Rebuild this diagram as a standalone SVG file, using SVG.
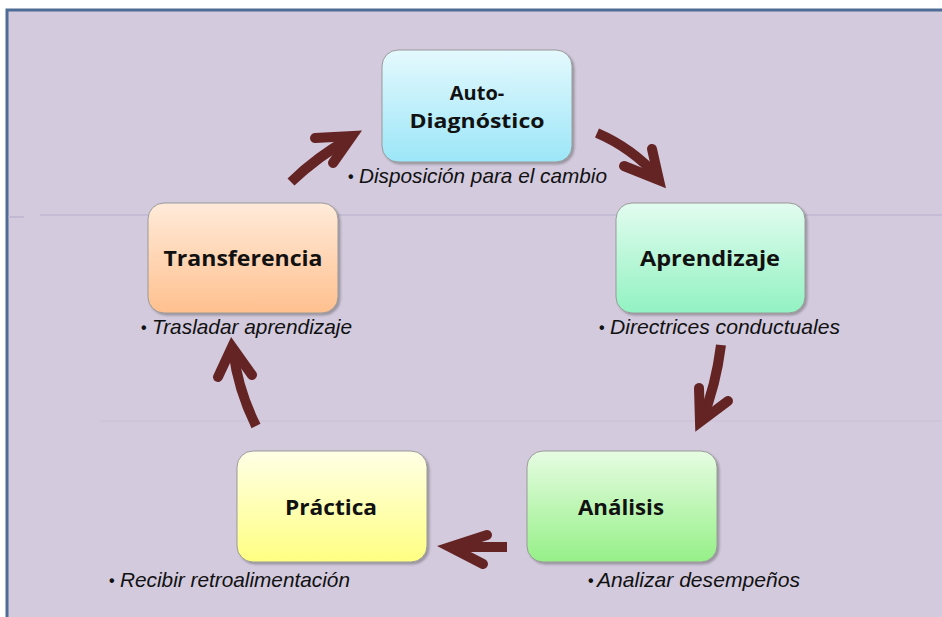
<svg xmlns="http://www.w3.org/2000/svg" width="942" height="617" viewBox="0 0 942 617">
<defs>
<linearGradient id="gCyan" x1="0" y1="0" x2="0" y2="1"><stop offset="0" stop-color="#E4F9FD"/><stop offset="1" stop-color="#9CE6F8"/></linearGradient>
<linearGradient id="gMint" x1="0" y1="0" x2="0" y2="1"><stop offset="0" stop-color="#E2FCEF"/><stop offset="1" stop-color="#92F2C2"/></linearGradient>
<linearGradient id="gGreen" x1="0" y1="0" x2="0" y2="1"><stop offset="0" stop-color="#E6FCE2"/><stop offset="1" stop-color="#96F088"/></linearGradient>
<linearGradient id="gYellow" x1="0" y1="0" x2="0" y2="1"><stop offset="0" stop-color="#FFFFE6"/><stop offset="1" stop-color="#FFFF82"/></linearGradient>
<linearGradient id="gPeach" x1="0" y1="0" x2="0" y2="1"><stop offset="0" stop-color="#FFEBDA"/><stop offset="1" stop-color="#FFC08E"/></linearGradient>
<filter id="sh" x="-10%" y="-10%" width="130%" height="130%"><feDropShadow dx="2" dy="2" stdDeviation="1.2" flood-color="#555" flood-opacity="0.45"/></filter>
</defs>
<style>
.box{stroke:#9A9A9A;stroke-width:1;filter:url(#sh)}
.title{font-family:"Open Sans","Noto Sans",sans-serif;font-weight:bold;font-size:22px;fill:#111;text-anchor:middle}
.t2{font-size:20px}
.lbl{font-family:"Liberation Sans",Arial,sans-serif;font-style:italic;font-size:21px;fill:#111}
.bul{font-family:"Liberation Sans",Arial,sans-serif;font-weight:bold;font-size:16px;fill:#111}
.shaft{fill:none;stroke:#652424;stroke-width:10;stroke-linecap:butt}
.head{fill:none;stroke:#652424;stroke-width:10;stroke-linecap:round;stroke-linejoin:miter;stroke-miterlimit:10}
</style>
<rect x="0" y="0" width="942" height="617" fill="#FFFFFF"/>
<rect x="7" y="10" width="945" height="620" fill="#D3CADE" stroke="#4F6C96" stroke-width="3"/>
<line x1="40" y1="215" x2="942" y2="215" stroke="#B7AECB" stroke-width="1.2"/>
<line x1="8" y1="217" x2="24" y2="217" stroke="#B7AECB" stroke-width="1.2"/>
<line x1="100" y1="421" x2="942" y2="421" stroke="#C9C0D6" stroke-width="1"/>

<g id="connectors">
  <g id="c1"><path class="shaft" d="M291 182 Q318 156 349 139"/><polyline class="head" points="315,138 352,136 333,163"/></g>
  <g id="c2"><path class="shaft" d="M597 133 Q632 148 658 177"/><polyline class="head" points="624,166 659,180 652,149"/></g>
  <g id="c3"><path class="shaft" d="M721 345 Q716 385 702 420"/><polyline class="head" points="699,388 700,422 728,401"/></g>
  <g id="c4"><path class="shaft" d="M507 547 L453 547"/><polyline class="head" points="487,535 450,547 483,564"/></g>
  <g id="c5"><path class="shaft" d="M256 426 Q238 390 233 350"/><polyline class="head" points="218,377 232,347 252,375"/></g>
</g>

<g id="n1">
  <rect class="box" x="382" y="50" width="190" height="112" rx="16" fill="url(#gCyan)"/>
  <text class="title t2" x="477" y="100">Auto-</text>
  <text class="title t2" x="477" y="128" textLength="135" lengthAdjust="spacingAndGlyphs">Diagnóstico</text>
  <text class="bul" x="348" y="182">•</text>
  <text class="lbl" x="359" y="183" textLength="248" lengthAdjust="spacingAndGlyphs">Disposición para el cambio</text>
</g>
<g id="n2">
  <rect class="box" x="616" y="203" width="189" height="110" rx="16" fill="url(#gMint)"/>
  <text class="title" x="710" y="266" textLength="140" lengthAdjust="spacingAndGlyphs">Aprendizaje</text>
  <text class="bul" x="599" y="333">•</text>
  <text class="lbl" x="610" y="334" textLength="230" lengthAdjust="spacingAndGlyphs">Directrices conductuales</text>
</g>
<g id="n3">
  <rect class="box" x="527" y="451" width="190" height="111" rx="16" fill="url(#gGreen)"/>
  <text class="title" x="621" y="515" textLength="86" lengthAdjust="spacingAndGlyphs">Análisis</text>
  <text class="bul" x="588" y="586">•</text>
  <text class="lbl" x="597" y="587" textLength="203" lengthAdjust="spacingAndGlyphs">Analizar desempeños</text>
</g>
<g id="n4">
  <rect class="box" x="237" y="451" width="190" height="111" rx="16" fill="url(#gYellow)"/>
  <text class="title" x="331" y="515" textLength="92" lengthAdjust="spacingAndGlyphs">Práctica</text>
  <text class="bul" x="109" y="586">•</text>
  <text class="lbl" x="120" y="587" textLength="230" lengthAdjust="spacingAndGlyphs">Recibir retroalimentación</text>
</g>
<g id="n5">
  <rect class="box" x="148" y="203" width="190" height="110" rx="16" fill="url(#gPeach)"/>
  <text class="title" x="243" y="266" textLength="159" lengthAdjust="spacingAndGlyphs">Transferencia</text>
  <text class="bul" x="141" y="333">•</text>
  <text class="lbl" x="152" y="334" textLength="200" lengthAdjust="spacingAndGlyphs">Trasladar aprendizaje</text>
</g>
</svg>
